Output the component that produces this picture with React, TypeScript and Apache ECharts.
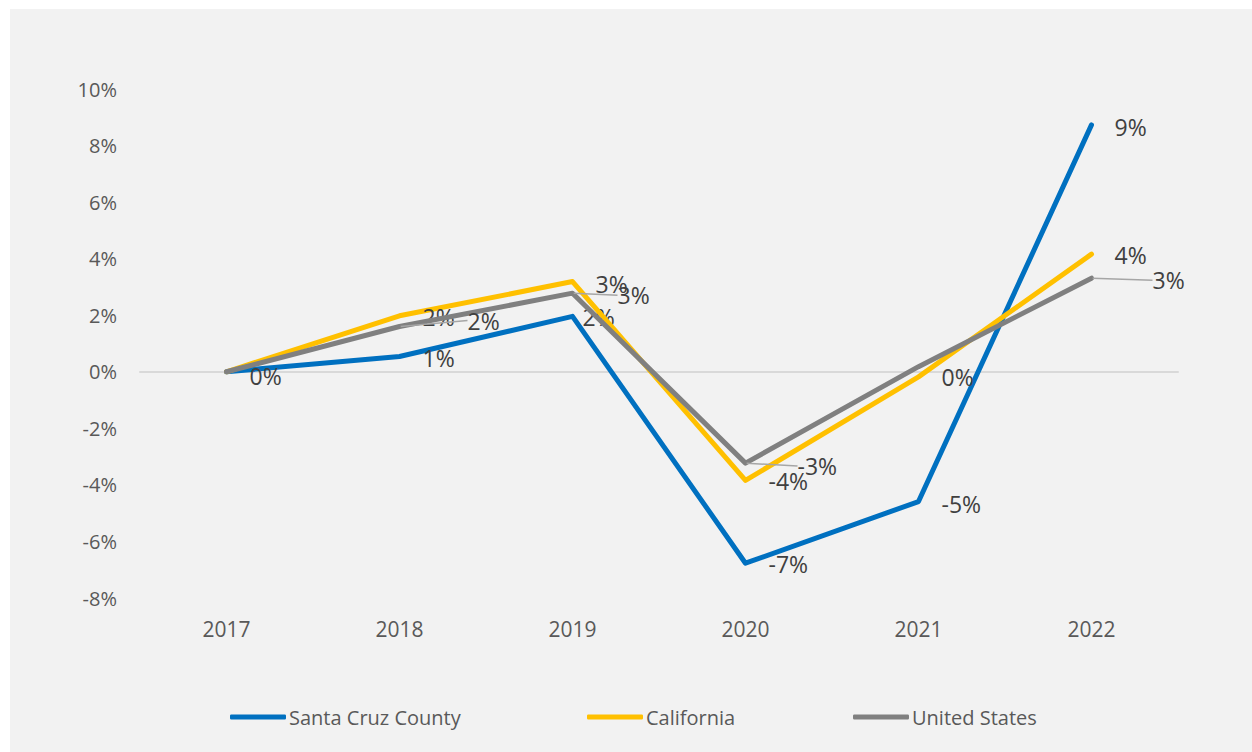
import React, { useEffect, useRef } from "react";
import * as echarts from "echarts";

const years = ["2017", "2018", "2019", "2020", "2021", "2022"];
const santaCruz = [0, 0.54, 1.96, -6.77, -4.59, 8.73];
const california = [0, 1.98, 3.19, -3.84, -0.18, 4.16];
const unitedStates = [0, 1.6, 2.78, -3.23, 0.18, 3.31];
const seriesNames = ["Santa Cruz County", "California", "United States"];
const labelShown = [
  [true, true, true, true, true, true],
  [false, true, true, true, true, true],
  [false, true, true, true, false, true],
];
const yMin = -8;
const yMax = 10;
const yStep = 2;

const colors = ["#0070C0", "#FFC000", "#808080"];
const FONT = "'Open Sans', 'Noto Sans', sans-serif";

// label offsets (dx, dy) in px per point
const scShift = [[0, 4], [0, 1], [-13, 1], [0, 1], [0, 2], [0, 2]];
const caShift = [[0, 0], [0, 1], [0, 2], [0, 1], [0, 0], [0, 1]];
const usShift = [[0, 0], [58, -6], [35, 2], [42, 3], [0, 0], [51, 2]];

export default function App() {
  const ref = useRef<HTMLDivElement>(null);
  useEffect(() => {
    document.body.style.margin = "0";
    const chart = echarts.init(ref.current!, undefined, { renderer: "svg" });
    const allValues = [santaCruz, california, unitedStates];
    const shifts = [scShift, caShift, usShift];
    const fmt = (p: any) => `${Math.round(p.value)}%`;
    const series = allValues.map((vals, si) => ({
      name: seriesNames[si],
      type: "line",
      xAxisIndex: 0,
      data: vals.map((v, i) => ({
        value: v,
        label: { show: labelShown[si][i] },
      })),
      symbol: "circle",
      symbolSize: 2,
      showSymbol: true,
      itemStyle: { color: colors[si] },
      lineStyle: { width: 5, color: colors[si], cap: "round", join: "round" },
      z: 2 + si,
      label: {
        show: true,
        position: "right",
        distance: si === 2 ? 0 : 22,
        formatter: fmt,
        color: "#404040",
        fontSize: 23,
        fontFamily: FONT,
        padding: si === 2 ? [0, 0, 0, 9] : 0,
      },
      labelLine:
        si === 2
          ? { show: true, lineStyle: { color: "#a6a6a6", width: 1.5 } }
          : { show: false },
      labelLayout: (p: any) => {
        const s = shifts[si][p.dataIndex] || [0, 0];
        return { dx: s[0], dy: s[1] };
      },
      emphasis: { disabled: true },
    }));

    chart.setOption({
      animation: false,
      backgroundColor: "#f2f2f2",
      grid: { left: 130, right: 74, top: 80, bottom: 154 },
      xAxis: [
        {
          type: "category",
          data: years,
          boundaryGap: true,
          axisLine: { show: false, onZero: false },
          axisTick: { show: false },
          axisLabel: {
            color: "#595959",
            fontSize: 21,
            fontFamily: FONT,
            margin: 20,
          },
        },
        {
          type: "category",
          data: years,
          position: "bottom",
          boundaryGap: true,
          axisLine: { show: true, onZero: true, lineStyle: { color: "#d9d9d9", width: 2 } },
          axisTick: { show: false },
          axisLabel: { show: false },
        },
      ],
      yAxis: {
        type: "value",
        min: yMin,
        max: yMax,
        interval: yStep,
        axisLine: { show: false },
        axisTick: { show: false },
        splitLine: { show: false },
        axisLabel: {
          formatter: "{value}%",
          color: "#595959",
          fontSize: 20,
          fontFamily: FONT,
          margin: 23,
        },
      },
      legend: seriesNames.map((n, i) => ({
        data: [n],
        left: [215, 572, 838][i],
        top: 693,
        icon: "roundRect",
        itemWidth: 56,
        itemHeight: 5,
        itemGap: 0,
        textStyle: { color: "#595959", fontSize: 20, fontFamily: FONT, padding: [0, 0, 0, -2] },
        selectedMode: false,
      })),
      series,
    });
    return () => chart.dispose();
  }, []);

  return (
    <div style={{ position: "relative", width: 1252, height: 752, background: "#ffffff" }}>
      <div
        ref={ref}
        style={{ position: "absolute", left: 10, top: 9, width: 1242, height: 743, background: "#f2f2f2" }}
      />
    </div>
  );
}
